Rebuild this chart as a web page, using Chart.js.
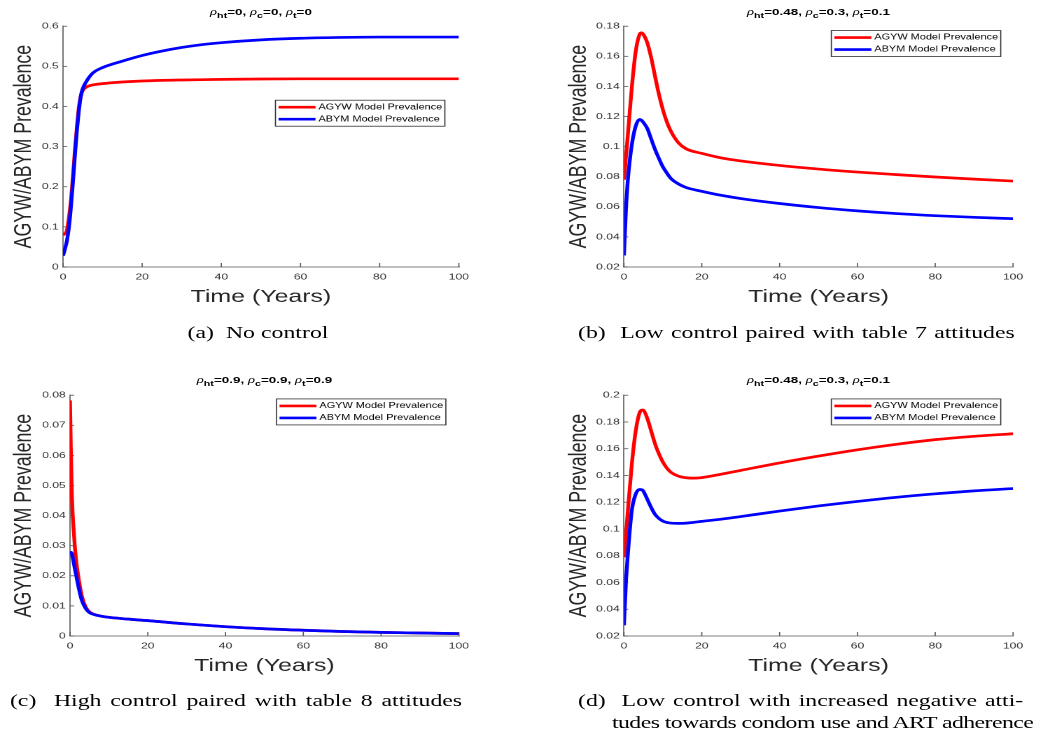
<!DOCTYPE html>
<html>
<head>
<meta charset="utf-8">
<title>AGYW / ABYM prevalence under control scenarios</title>
<script src="https://cdn.jsdelivr.net/npm/chart.js@4.4.1/dist/chart.umd.min.js"></script>
<style>
  html, body { margin: 0; padding: 0; background: #fff; }
  body { width: 1042px; height: 743px; overflow: hidden; position: relative; }
  /* the reference figure is stretched sideways, so draw narrow and widen */
  #figure { position: absolute; left: 0; top: 0; width: 744.3px; height: 743px; transform: scaleX(1.4); transform-origin: 0 0; }
  canvas { position: absolute; }
  .title { position: absolute; width: 220px; margin-left: -110px; text-align: center; white-space: nowrap;
           font: bold 9.6px "Liberation Sans", Arial, sans-serif; line-height: 12px; color: #000; }
  .title i { font-family: "Liberation Serif", serif; font-weight: normal; font-size: 10.5px; }
  .title sub { font-size: 0.8em; vertical-align: -0.35em; line-height: 0; }
  .caption { position: absolute; white-space: nowrap; font: 17px "Liberation Serif", "Times New Roman", serif;
             line-height: 22px; color: #000; }
  .just { text-align: justify; text-align-last: justify; }
</style>
</head>
<body>
<div id="figure">
  <canvas id="chartA" width="340" height="300" style="left:0;top:18px;width:340px;height:300px"></canvas>
  <canvas id="chartB" width="349" height="300" style="left:395px;top:18px;width:349px;height:300px"></canvas>
  <canvas id="chartC" width="340" height="300" style="left:0;top:387px;width:340px;height:300px"></canvas>
  <canvas id="chartD" width="349" height="300" style="left:395px;top:387px;width:349px;height:300px"></canvas>

  <div class="title" style="left:186.4px;top:5.7px"><i>ρ</i><sub>ht</sub>=0, <i>ρ</i><sub>c</sub>=0, <i>ρ</i><sub>t</sub>=0</div>
  <div class="title" style="left:584.6px;top:5.7px"><i>ρ</i><sub>ht</sub>=0.48, <i>ρ</i><sub>c</sub>=0.3, <i>ρ</i><sub>t</sub>=0.1</div>
  <div class="title" style="left:188.9px;top:373.7px"><i>ρ</i><sub>ht</sub>=0.9, <i>ρ</i><sub>c</sub>=0.9, <i>ρ</i><sub>t</sub>=0.9</div>
  <div class="title" style="left:584.6px;top:373.7px"><i>ρ</i><sub>ht</sub>=0.48, <i>ρ</i><sub>c</sub>=0.3, <i>ρ</i><sub>t</sub>=0.1</div>

  <div class="caption" style="left:84.3px;top:322px;width:200px;text-align:center">(a)&nbsp; No control</div>
  <div class="caption just" style="left:412.9px;top:322px;width:312px">(b)&nbsp; Low control paired with table 7 attitudes</div>
  <div class="caption just" style="left:7.1px;top:690px;width:323px">(c)&nbsp; High control paired with table 8 attitudes</div>
  <div class="caption just" style="left:412.9px;top:690px;width:318px">(d)&nbsp; Low control with increased negative atti-</div>
  <div class="caption just" style="left:437.1px;top:712px;width:294px;letter-spacing:-0.4px">tudes towards condom use and ART adherence</div>
</div>

<script>
// Series labels
const seriesLabels = ['AGYW Model Prevalence', 'ABYM Model Prevalence'];

// Shared x ticks (years)
const xTicks = [0, 20, 40, 60, 80, 100];

// (a) No control
const timeA = [0, 0.5, 1, 1.5, 2, 2.5, 3, 3.5, 4, 4.5, 5, 6, 7, 8, 10, 15, 20, 25, 30, 35, 40, 50, 60, 70, 80, 90, 100];
const agywA = [0.080, 0.083, 0.092, 0.124, 0.166, 0.224, 0.290, 0.348, 0.397, 0.426, 0.440, 0.449, 0.4525, 0.4545, 0.457, 0.461, 0.4635, 0.465, 0.466, 0.4668, 0.4675, 0.4685, 0.469, 0.469, 0.469, 0.469, 0.469];
const abymA = [0.028, 0.045, 0.066, 0.099, 0.149, 0.211, 0.277, 0.339, 0.389, 0.426, 0.445, 0.464, 0.478, 0.487, 0.497, 0.513, 0.527, 0.538, 0.547, 0.554, 0.559, 0.566, 0.570, 0.572, 0.573, 0.573, 0.573];
const yTicksA = [0, 0.1, 0.2, 0.3, 0.4, 0.5, 0.6];

// (b) Low control, table 7 attitudes
const timeB = [0, 0.5, 1, 2, 3, 4, 4.5, 5, 6, 7, 8, 9, 10, 11, 12, 14, 16, 20, 25, 30, 40, 50, 60, 70, 80, 90, 100];
const agywB = [0.078, 0.093, 0.108, 0.139, 0.163, 0.1745, 0.1756, 0.1745, 0.169, 0.159, 0.1465, 0.1345, 0.1245, 0.1165, 0.1105, 0.1025, 0.0985, 0.0955, 0.0925, 0.0905, 0.0875, 0.0851, 0.0831, 0.0814, 0.0798, 0.0784, 0.0771];
const abymB = [0.0277, 0.058, 0.078, 0.101, 0.1135, 0.118, 0.1175, 0.116, 0.112, 0.105, 0.098, 0.092, 0.0865, 0.0825, 0.079, 0.0752, 0.0728, 0.0703, 0.0676, 0.0655, 0.0622, 0.0595, 0.0573, 0.0555, 0.0541, 0.0530, 0.0521];
const yTicksB = [0.02, 0.04, 0.06, 0.08, 0.1, 0.12, 0.14, 0.16, 0.18];

// (c) High control, table 8 attitudes
const timeC = [0, 0.25, 0.5, 1, 1.5, 2, 3, 4, 5, 6, 8, 10, 15, 20, 30, 40, 50, 60, 70, 80, 90, 100];
const agywC = [0.0783, 0.060, 0.046, 0.034, 0.026, 0.021, 0.0135, 0.0097, 0.008, 0.0073, 0.0066, 0.0062, 0.0056, 0.0051, 0.0040, 0.0031, 0.0024, 0.0019, 0.0015, 0.0012, 0.0010, 0.0008];
const abymC = [0.0279, 0.0278, 0.0272, 0.024, 0.0207, 0.0174, 0.012, 0.0092, 0.0078, 0.0072, 0.0066, 0.0062, 0.0056, 0.0051, 0.0040, 0.0031, 0.0024, 0.0019, 0.0015, 0.0012, 0.0010, 0.0008];
const yTicksC = [0, 0.01, 0.02, 0.03, 0.04, 0.05, 0.06, 0.07, 0.08];

// (d) Low control, more negative attitudes
const timeD = [0, 0.5, 1, 2, 3, 4, 4.7, 5, 6, 7, 8, 9, 10, 11, 12, 14, 16, 18, 20, 25, 30, 40, 50, 60, 70, 80, 90, 100];
const agywD = [0.0788, 0.096, 0.1136, 0.148, 0.173, 0.1868, 0.189, 0.1888, 0.1826, 0.1731, 0.1635, 0.156, 0.150, 0.1456, 0.1425, 0.1395, 0.1383, 0.138, 0.1384, 0.141, 0.1438, 0.1494, 0.1545, 0.1592, 0.1633, 0.1668, 0.1693, 0.1712];
const abymD = [0.028, 0.060, 0.0813, 0.1136, 0.126, 0.1295, 0.1292, 0.1282, 0.1222, 0.116, 0.1108, 0.1078, 0.1059, 0.1049, 0.1044, 0.1042, 0.1044, 0.105, 0.1057, 0.1073, 0.1093, 0.1134, 0.1172, 0.1206, 0.1237, 0.1263, 0.1285, 0.1302];
const yTicksD = [0.02, 0.04, 0.06, 0.08, 0.1, 0.12, 0.14, 0.16, 0.18, 0.2];

const FONT = '"Liberation Sans", Arial, Helvetica, sans-serif';
const AXIS_COLOR = '#555';

// Draw MATLAB style inward tick marks
const innerTicks = {
    id: 'innerTicks',
    beforeDatasetsDraw(chart) {
        const { ctx, scales: { x, y } } = chart;
        ctx.save();
        ctx.strokeStyle = AXIS_COLOR;
        ctx.lineWidth = 0.8;
        x.ticks.forEach(t => {
            const px = x.getPixelForValue(t.value);
            ctx.beginPath();
            ctx.moveTo(px, x.top);
            ctx.lineTo(px, x.top - 4);
            ctx.stroke();
        });
        y.ticks.forEach(t => {
            const py = y.getPixelForValue(t.value);
            ctx.beginPath();
            ctx.moveTo(y.right, py);
            ctx.lineTo(y.right + 3, py);
            ctx.stroke();
        });
        ctx.restore();
    }
};

// Boxed legend placed inside the plot area
const boxLegend = {
    id: 'boxLegend',
    afterDraw(chart, args, opts) {
        const { ctx, chartArea } = chart;
        const w = 121, h = 26;
        const left = chartArea.right - opts.inset - w;
        const top = chartArea.top + opts.top;
        ctx.save();
        ctx.fillStyle = '#fff';
        ctx.fillRect(left, top, w, h);
        ctx.strokeStyle = '#333';
        ctx.lineWidth = 0.8;
        ctx.strokeRect(left, top, w, h);
        ctx.font = '7.8px ' + FONT;
        ctx.textBaseline = 'middle';
        chart.data.datasets.forEach((ds, i) => {
            const rowY = top + 7 + i * 12;
            ctx.strokeStyle = ds.borderColor;
            ctx.lineWidth = 2.6;
            ctx.beginPath();
            ctx.moveTo(left + 2.2, rowY);
            ctx.lineTo(left + 28.6, rowY);
            ctx.stroke();
            ctx.fillStyle = '#000';
            ctx.fillText(ds.label, left + 30.7, rowY);
        });
        ctx.restore();
    }
};

function toPoints(xs, ys) {
    return xs.map((x, i) => ({ x: x, y: ys[i] }));
}

function formatTick(v) {
    return String(+v.toFixed(3));
}

// Render one panel
function renderPanel(p) {
    const canvas = document.getElementById(p.id);
    new Chart(canvas, {
        type: 'line',
        data: {
            datasets: [
                { label: seriesLabels[0], data: toPoints(p.time, p.agyw), borderColor: '#ff0000', order: 1 },
                { label: seriesLabels[1], data: toPoints(p.time, p.abym), borderColor: '#0000ff', order: 0 }
            ]
        },
        options: {
            responsive: false,
            animation: false,
            devicePixelRatio: 2,
            layout: { padding: { top: 7, right: p.padRight, left: 0, bottom: 0 } },
            elements: {
                point: { radius: 0 },
                line: { borderWidth: 2.7, cubicInterpolationMode: 'monotone', fill: false }
            },
            plugins: {
                legend: { display: false },
                tooltip: { enabled: false },
                boxLegend: { inset: p.legendInset, top: p.legendTop }
            },
            scales: {
                x: {
                    type: 'linear',
                    min: 0,
                    max: 100,
                    afterBuildTicks: s => { s.ticks = xTicks.map(v => ({ value: v })); },
                    afterFit: s => { s.height = 51; },
                    grid: { display: true, drawOnChartArea: false, drawTicks: false },
                    border: { display: true, color: AXIS_COLOR, width: 0.8 },
                    ticks: { padding: 5, color: '#333', font: { size: 8.7, family: FONT }, callback: formatTick, maxRotation: 0 },
                    title: { display: true, text: 'Time (Years)', color: '#262626', font: { size: 17.8, family: FONT }, padding: { top: 0, bottom: 10 } }
                },
                y: {
                    type: 'linear',
                    min: p.yTicks[0],
                    max: p.yTicks[p.yTicks.length - 1],
                    afterBuildTicks: s => { s.ticks = p.yTicks.map(v => ({ value: v })); },
                    afterFit: s => { s.width = p.yWidth; },
                    grid: { display: true, drawOnChartArea: false, drawTicks: false },
                    border: { display: true, color: AXIS_COLOR, width: 0.8 },
                    ticks: { padding: 3, color: '#333', font: { size: 8.7, family: FONT }, callback: formatTick },
                    title: { display: true, text: 'AGYW/ABYM Prevalence', color: '#262626', font: { size: 17.8, family: FONT }, padding: { top: p.yTitlePad, bottom: 0 } }
                }
            }
        },
        plugins: [innerTicks, boxLegend]
    });
}

document.addEventListener('DOMContentLoaded', () => {
    renderPanel({ id: 'chartA', time: timeA, agyw: agywA, abym: abymA, yTicks: yTicksA, yWidth: 45, padRight: 12.1, yTitlePad: 6.4, legendInset: 10, legendTop: 74 });
    renderPanel({ id: 'chartB', time: timeB, agyw: agywB, abym: abymB, yTicks: yTicksB, yWidth: 50.7, padRight: 20.4, yTitlePad: 7.9, legendInset: 8.8, legendTop: 4.3 });
    renderPanel({ id: 'chartC', time: timeC, agyw: agywC, abym: abymC, yTicks: yTicksC, yWidth: 50, padRight: 12.1, yTitlePad: 6.4, legendInset: 9.3, legendTop: 3.7 });
    renderPanel({ id: 'chartD', time: timeD, agyw: agywD, abym: abymD, yTicks: yTicksD, yWidth: 50.7, padRight: 20.4, yTitlePad: 7.9, legendInset: 8.8, legendTop: 3.7 });
});
</script>
</body>
</html>
